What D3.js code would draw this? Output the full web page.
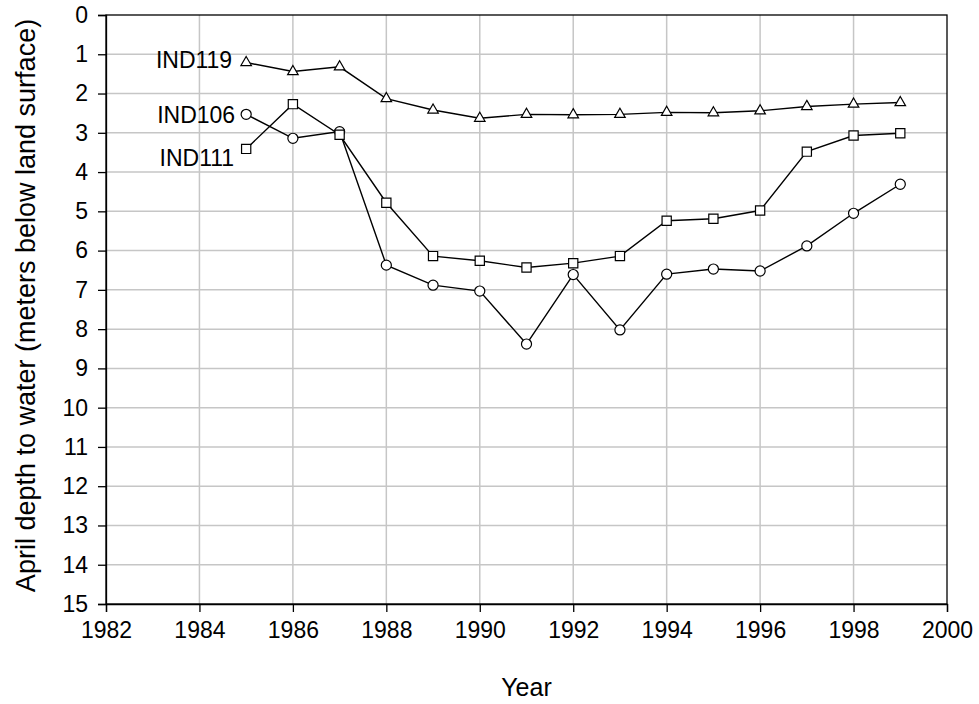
<!DOCTYPE html>
<html>
<head>
<meta charset="utf-8">
<script src="https://cdn.jsdelivr.net/npm/d3@7"></script>
<style>
  html, body { margin: 0; padding: 0; background: #fff; }
  svg { display: block; font-family: "Liberation Sans", Arial, sans-serif; }
</style>
</head>
<body>
<svg id="chart" width="979" height="704"></svg>
<script>
// Water-level record for three wells, 1985-1999
const years = [1985, 1986, 1987, 1988, 1989, 1990, 1991, 1992, 1993, 1994, 1995, 1996, 1997, 1998, 1999];
const ind119 = [1.21, 1.44, 1.32, 2.13, 2.42, 2.63, 2.53, 2.54, 2.53, 2.48, 2.49, 2.44, 2.33, 2.27, 2.23];
const ind106 = [2.53, 3.14, 2.97, 6.37, 6.88, 7.03, 8.38, 6.61, 8.02, 6.60, 6.47, 6.52, 5.88, 5.05, 4.31];
const ind111 = [3.41, 2.27, 3.05, 4.78, 6.14, 6.26, 6.43, 6.32, 6.14, 5.24, 5.19, 4.98, 3.48, 3.07, 3.01];
const seriesNames = ["IND119", "IND106", "IND111"];
const xTicks = [1982, 1984, 1986, 1988, 1990, 1992, 1994, 1996, 1998, 2000];
const yTicks = [0, 1, 2, 3, 4, 5, 6, 7, 8, 9, 10, 11, 12, 13, 14, 15];

const svg = d3.select("#chart");
const margin = { left: 106, right: 32, top: 15, bottom: 100 };
const W = 979, H = 704;
const x = d3.scaleLinear().domain([1982, 2000]).range([margin.left, W - margin.right]);
const y = d3.scaleLinear().domain([0, 15]).range([margin.top, H - margin.bottom]);

// grid
const grid = svg.append("g");
grid.selectAll("line.v").data(xTicks.slice(1, -1)).join("line")
  .attr("x1", d => x(d)).attr("x2", d => x(d))
  .attr("y1", y(0)).attr("y2", y(15))
  .attr("stroke", "#c6c6c6").attr("stroke-width", 1.5);
grid.selectAll("line.h").data(yTicks.slice(1, -1)).join("line")
  .attr("x1", x(1982)).attr("x2", x(2000))
  .attr("y1", d => y(d)).attr("y2", d => y(d))
  .attr("stroke", "#c6c6c6").attr("stroke-width", 1.5);

// frame
svg.append("rect")
  .attr("x", x(1982)).attr("y", y(0))
  .attr("width", x(2000) - x(1982)).attr("height", y(15) - y(0))
  .attr("fill", "none").attr("stroke", "#000").attr("stroke-width", 1.3);

// axes
const xAxis = svg.append("g").attr("transform", `translate(0,${y(15)})`)
  .call(d3.axisBottom(x).tickValues(xTicks).tickFormat(d3.format("d")).tickSize(8).tickPadding(10));
const yAxis = svg.append("g").attr("transform", `translate(${x(1982)},0)`)
  .call(d3.axisLeft(y).tickValues(yTicks).tickFormat(d3.format("d")).tickSize(8).tickPadding(10));
[xAxis, yAxis].forEach(a => {
  a.select(".domain").attr("stroke", "#000").attr("stroke-width", 1.3);
  a.selectAll(".tick line").attr("stroke", "#000").attr("stroke-width", 1.3);
  a.selectAll(".tick text").attr("fill", "#000")
    .style("font-family", "'Liberation Sans', Arial, sans-serif").style("font-size", "23px");
});

// axis titles
svg.append("text")
  .attr("x", (x(1982) + x(2000)) / 2).attr("y", 696)
  .attr("text-anchor", "middle").style("font-size", "25px").text("Year");
svg.append("text")
  .attr("transform", `translate(35,${(y(0) + y(15)) / 2 - 4}) rotate(-90)`)
  .attr("text-anchor", "middle").style("font-size", "27px")
  .text("April depth to water (meters below land surface)");

// series lines and markers
const line = d3.line().x((d, i) => x(years[i])).y(d => y(d));
const allSeries = [ind119, ind106, ind111];
allSeries.forEach(vals => {
  svg.append("path").datum(vals).attr("d", line)
    .attr("fill", "none").attr("stroke", "#000").attr("stroke-width", 1.4);
});

const symbols = [d3.symbolTriangle, d3.symbolCircle, d3.symbolSquare];
const sizes = [48, 80, 85];
allSeries.forEach((vals, s) => {
  const sym = d3.symbol().type(symbols[s]).size(sizes[s]);
  svg.append("g").selectAll("path").data(vals).join("path")
    .attr("transform", (d, i) => `translate(${x(years[i])},${y(d)})`)
    .attr("d", sym)
    .attr("fill", "#fff").attr("stroke", "#000").attr("stroke-width", 1.2);
});

// series labels to the left of the first point
const labelOffsets = [-0.07, 0.0, 0.22];
const labelGaps = [14, 11, 12];
allSeries.forEach((vals, s) => {
  svg.append("text")
    .attr("x", x(years[0]) - labelGaps[s]).attr("y", y(vals[0] + labelOffsets[s]))
    .attr("dy", "0.36em").attr("text-anchor", "end")
    .style("font-size", "23px").text(seriesNames[s]);
});
</script>
</body>
</html>
